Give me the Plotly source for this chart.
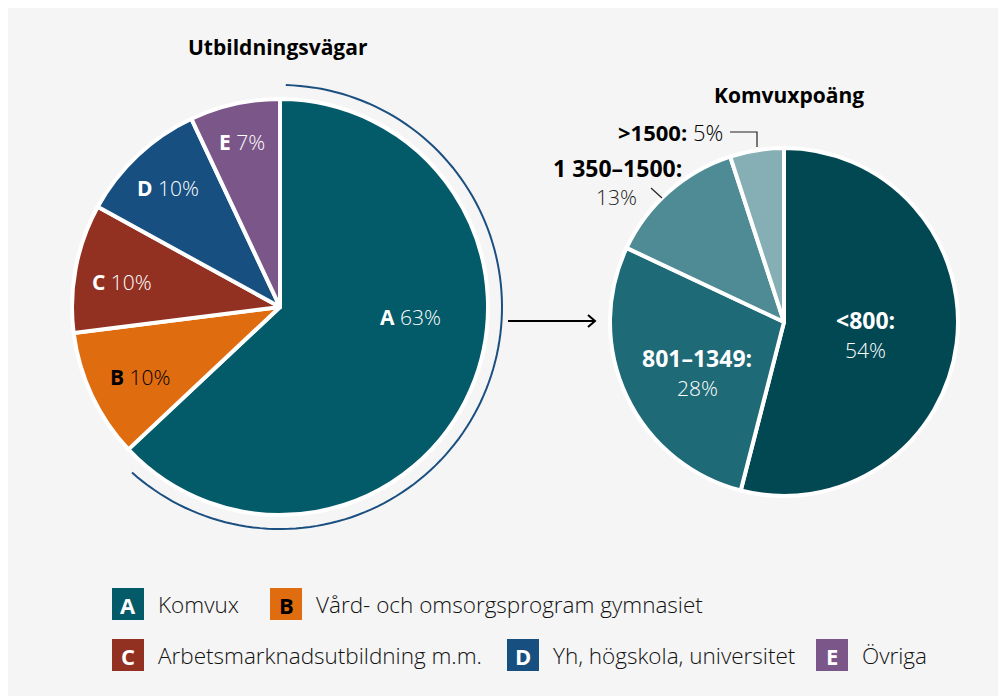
import math
import plotly.graph_objects as go

W, H = 1006, 696
OFF = 8  # page body margin

# ---- data ----
path_codes = ["A", "B", "C", "D", "E"]
path_names = ["Komvux", "Vård- och omsorgsprogram gymnasiet",
              "Arbetsmarknadsutbildning m.m.", "Yh, högskola, universitet", "Övriga"]
path_values = [63, 10, 10, 10, 7]
path_colors = ["#035a69", "#e06c10", "#923122", "#164f80", "#7b5689"]

points_labels = ["<800:", "801–1349:", "1 350–1500:", ">1500:"]
points_values = [54, 28, 13, 5]
points_colors = ["#024853", "#1f6a77", "#4f8b95", "#86afb5"]

FONT = "Open Sans"


def px(x):
    return (x - OFF) / W


def py(y):
    return 1 - (y - OFF) / H


fig = go.Figure()

LCX, LCY, LR = 280, 307, 208
RCX, RCY, RR = 784, 322, 174

fig.add_trace(go.Pie(
    labels=path_codes, values=path_values, sort=False, direction="clockwise",
    rotation=0, marker=dict(colors=path_colors, line=dict(color="white", width=4)),
    textinfo="none", hoverinfo="none", showlegend=False,
    domain=dict(x=[px(LCX - LR), px(LCX + LR)], y=[py(LCY + LR), py(LCY - LR)]),
))
fig.add_trace(go.Pie(
    labels=points_labels, values=points_values, sort=False, direction="clockwise",
    rotation=0, marker=dict(colors=points_colors, line=dict(color="white", width=4)),
    textinfo="none", hoverinfo="none", showlegend=False,
    domain=dict(x=[px(RCX - RR), px(RCX + RR)], y=[py(RCY + RR), py(RCY - RR)]),
))

shapes = []
shapes.append(dict(type="rect", xref="paper", yref="paper", x0=0, x1=1, y0=0, y1=1,
                   fillcolor="#f5f5f5", line=dict(width=0), layer="below"))

# arc around slice A
arc_r = 222
total = sum(path_values)
a0 = math.radians(1.5)
a1 = math.radians(path_values[0] / total * 360 - 5)
pts = []
n = 120
for i in range(n + 1):
    a = a0 + (a1 - a0) * i / n
    x = LCX + arc_r * math.sin(a)
    y = LCY - arc_r * math.cos(a)
    pts.append(f"{px(x):.5f},{py(y):.5f}")
shapes.append(dict(type="path", xref="paper", yref="paper",
                   path="M " + " L ".join(pts), line=dict(color="#1a4f80", width=2)))

# arrow
shapes.append(dict(type="path", xref="paper", yref="paper",
                   path=f"M {px(508)},{py(321)} L {px(594)},{py(321)} "
                        f"M {px(588)},{py(315)} L {px(595)},{py(321)} L {px(588)},{py(327)}",
                   line=dict(color="black", width=2)))

# leader lines
shapes.append(dict(type="path", xref="paper", yref="paper",
                   path=f"M {px(730)},{py(132)} L {px(757)},{py(132)} L {px(757)},{py(147)}",
                   line=dict(color="#222222", width=1.2)))
shapes.append(dict(type="line", xref="paper", yref="paper",
                   x0=px(651), y0=py(188), x1=px(662), y1=py(198),
                   line=dict(color="#222222", width=1.2)))

ann = []


def text(x, y, s, size=19, color="black", xanchor="center", weight=300):
    ann.append(dict(x=px(x), y=py(y), xref="paper", yref="paper", text=s, showarrow=False,
                    xanchor=xanchor, yanchor="middle",
                    font=dict(family=FONT, size=size, color=color, weight=weight)))


text(278, 47, "<b>Utbildningsvägar</b>", size=21)
text(789, 95, "<b>Komvuxpoäng</b>", size=21)

left_pos = [(410, 317), (140, 377), (122, 282), (168, 188), (242, 142)]
for code, v, c, (x, y) in zip(path_codes, path_values, path_colors, left_pos):
    col = "black" if code == "B" else "white"
    text(x, y, f"<b>{code}</b> {v}%", color=col, size=21)

text(865, 320, f"<b>{points_labels[0]}</b>", color="white", size=23)
text(865, 350, f"{points_values[0]}%", color="white", size=21)
text(697, 358, f"<b>{points_labels[1]}</b>", color="white", size=23)
text(697, 388, f"{points_values[1]}%", color="white", size=21)
text(617, 168, f"<b>{points_labels[2]}</b>", size=23)
text(616, 197, f"{points_values[2]}%", color="#222222", size=21)
text(725, 132, f"<b>{points_labels[3]}</b> {points_values[3]}%", xanchor="right", size=22)

leg_pos = [(112, 604), (270, 604), (112, 655), (507, 655), (816, 655)]
for code, name, c, (x, y) in zip(path_codes, path_names, path_colors, leg_pos):
    shapes.append(dict(type="rect", xref="paper", yref="paper",
                       x0=px(x), x1=px(x + 32), y0=py(y + 16), y1=py(y - 16),
                       fillcolor=c, line=dict(width=0)))
    text(x + 16, y + 1, f"<b>{code}</b>", size=22,
         color="black" if code == "B" else "white", weight=700)
    text(x + 44, y, name, size=22.5, color="#111111", xanchor="left")

fig.update_layout(
    width=W, height=H, margin=dict(l=0, r=0, t=0, b=0),
    paper_bgcolor="white", plot_bgcolor="white",
    shapes=shapes, annotations=ann,
    xaxis=dict(visible=False), yaxis=dict(visible=False),
)

fig.write_html("out.html")
